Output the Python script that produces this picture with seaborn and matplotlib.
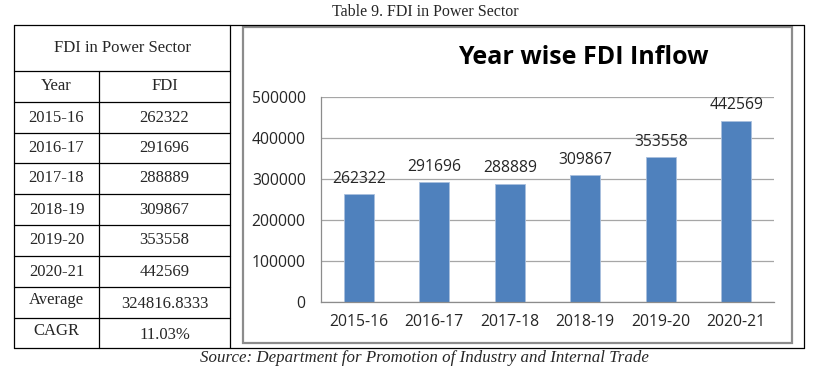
import matplotlib
matplotlib.use('Agg')
import matplotlib.pyplot as plt
import seaborn as sns
import pandas as pd
from matplotlib.lines import Line2D
from matplotlib.patches import Rectangle

years = ['2015-16', '2016-17', '2017-18', '2018-19', '2019-20', '2020-21']
fdi = [262322, 291696, 288889, 309867, 353558, 442569]
average_label = '324816.8333'
cagr_label = '11.03%'
yticks = [0, 100000, 200000, 300000, 400000, 500000]

W, H = 817, 373
BLUE = '#4F81BD'

sns.set_style('white')
plt.rcParams['font.family'] = ['Liberation Serif', 'DejaVu Serif']

fig = plt.figure(figsize=(W / 100, H / 100), dpi=100)


def fx(px):
    return px / W


def fy(py):
    return 1 - py / H


def hline(x0, x1, y, color='black', lw=0.9):
    fig.add_artist(Line2D([fx(x0), fx(x1)], [fy(y), fy(y)], color=color, lw=lw))


def vline(x, y0, y1, color='black', lw=0.9):
    fig.add_artist(Line2D([fx(x), fx(x)], [fy(y0), fy(y1)], color=color, lw=lw))


# caption and source
fig.text(fx(425), fy(12), 'Table 9. FDI in Power Sector', ha='center', va='center', fontsize=11.5)
fig.text(fx(424), fy(358), 'Source: Department for Promotion of Industry and Internal Trade',
         ha='center', va='center', fontsize=12.2, style='italic')

# table grid
left, mid, split, right = 14, 99, 230, 804
top, bottom = 25, 348
row_lines = [71, 102, 133, 163, 194, 225, 256, 287, 318]
hline(left, right, top)
hline(left, right, bottom)
vline(left, top, bottom)
vline(split, top, bottom)
vline(right, top, bottom)
vline(mid, row_lines[0], bottom)
for y in row_lines:
    hline(left, split, y)

# table text
fs = 12
fig.text(fx((left + split) / 2), fy((top + row_lines[0]) / 2), 'FDI in Power Sector',
         ha='center', va='center', fontsize=12)
col1 = ['Year'] + years + ['Average', 'CAGR']
col2 = ['FDI'] + [str(v) for v in fdi] + [average_label, cagr_label]
edges = row_lines + [bottom]
for i in range(len(col1)):
    yc = (edges[i] + edges[i + 1]) / 2
    dy1 = -2 if col1[i] in ('Average', 'CAGR') else 0
    dy2 = 2 if col1[i] in ('Average', 'CAGR') else 0
    fig.text(fx((left + mid) / 2), fy(yc + dy1), col1[i], ha='center', va='center', fontsize=fs)
    fig.text(fx((mid + split) / 2), fy(yc + dy2), col2[i], ha='center', va='center', fontsize=fs)

# chart frame
fig.add_artist(Rectangle((fx(243), fy(343)), fx(792) - fx(243), fy(27) - fy(343),
                         fill=False, edgecolor='#8c8c8c', lw=1.6))

# bar chart
cfont = ['Open Sans', 'DejaVu Sans']
ax = fig.add_axes([fx(321), fy(302), fx(774) - fx(321), fy(97) - fy(302)])
df = pd.DataFrame({'year': years, 'fdi': fdi})
sns.barplot(data=df, x='year', y='fdi', color=BLUE, saturation=1, width=0.4, ax=ax,
            edgecolor='#a9c0de', linewidth=0.6)
ax.set_ylim(0, 500000)
ax.set_xlim(-0.5, len(years) - 0.5)
ax.set_yticks(yticks)
ax.set_yticklabels([str(t) for t in yticks], family=cfont, fontsize=11.3, color='#262626')
ax.set_xticks(range(len(years)))
ax.set_xticklabels(years, family=cfont, fontsize=11.3, color='#262626')
ax.set_xticks([i - 0.5 for i in range(len(years) + 1)], minor=True)
ax.tick_params(axis='x', which='major', length=0, pad=9)
ax.tick_params(axis='x', which='minor', length=5, color='#8c8c8c', width=0.9)
ax.tick_params(axis='y', length=5, color='#8c8c8c', width=0.9, pad=6)
ax.set_xlabel('')
ax.set_ylabel('')
ax.grid(axis='y', color='#a6a6a6', lw=0.9)
ax.set_axisbelow(True)
for s in ['top', 'right']:
    ax.spines[s].set_visible(False)
for s in ['left', 'bottom']:
    ax.spines[s].set_color('#8c8c8c')
    ax.spines[s].set_linewidth(0.9)

for i, v in enumerate(fdi):
    ax.annotate(str(v), (i, v), xytext=(0, 11), textcoords='offset points',
                ha='center', va='center', family=cfont, fontsize=11.3, color='#262626')

fig.text(fx(583), fy(57), 'Year wise FDI Inflow', ha='center', va='center',
         family=cfont, fontsize=18, fontweight='bold', color='black')

fig.savefig('out.png', dpi=100)
